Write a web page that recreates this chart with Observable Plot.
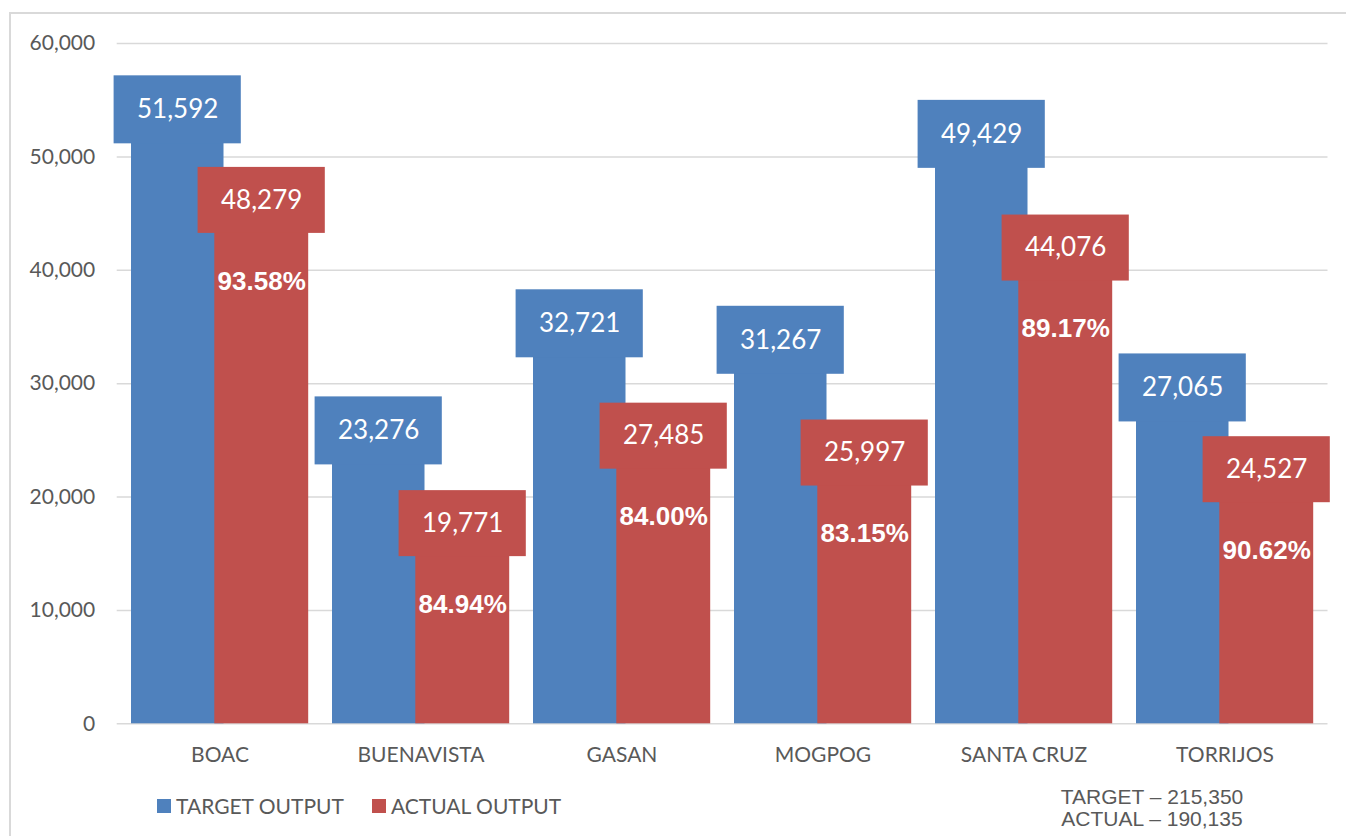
<!DOCTYPE html>
<html>
<head>
<meta charset="utf-8">
<script src="https://cdn.jsdelivr.net/npm/d3@7"></script>
<script src="https://cdn.jsdelivr.net/npm/@observablehq/plot@0.6"></script>
<style>
  html, body { margin: 0; padding: 0; background: #fff; }
  #wrap { position: relative; width: 1346px; height: 836px; overflow: hidden; }
  #frame { position: absolute; left: 9px; top: 12px; width: 1400px; height: 900px;
           border-top: 2px solid #D9D9D9; border-left: 2px solid #D9D9D9; box-sizing: border-box; }
  #chart { position: absolute; left: 0; top: 0; }
  .legend { position: absolute; top: 793px; font-family: Lato, sans-serif; font-size: 21px; color: #595959;
            display: flex; align-items: center; white-space: nowrap; }
  .legend .sw { width: 14px; height: 14px; margin-right: 5px; }
  #totals { position: absolute; left: 1052px; top: 786px; width: 200px; text-align: center;
            font-family: "Liberation Sans", Arial, sans-serif; font-size: 21px; line-height: 22px; color: #595959; }
</style>
</head>
<body>
<div id="wrap">
  <div id="frame"></div>
  <div id="chart"></div>
  <div class="legend" style="left:157px"><div class="sw" style="background:#4F81BD"></div>TARGET OUTPUT</div>
  <div class="legend" style="left:372px"><div class="sw" style="background:#C0504D"></div>ACTUAL OUTPUT</div>
  <div id="totals"></div>
</div>
<script>
const regions = ["BOAC", "BUENAVISTA", "GASAN", "MOGPOG", "SANTA CRUZ", "TORRIJOS"];
const targetOutput = [51592, 23276, 32721, 31267, 49429, 27065];
const actualOutput = [48279, 19771, 27485, 25997, 44076, 24527];
const pctLabels = ["93.58%", "84.94%", "84.00%", "83.15%", "89.17%", "90.62%"];
const yTicks = [0, 10000, 20000, 30000, 40000, 50000, 60000];
const totalLines = ["TARGET \u2013 215,350", "ACTUAL \u2013 190,135"];

const BLUE = "#4F81BD", RED = "#C0504D";
const data = regions.map((r, i) => ({region: r, target: targetOutput[i], actual: actualOutput[i], pct: pctLabels[i]}));
const fmt = d3.format(",");

const chart = Plot.plot({
  width: 1346,
  height: 780,
  marginLeft: 116.7,
  marginRight: 18.5,
  marginTop: 43,
  marginBottom: 56.7,
  style: {background: "transparent", overflow: "visible"},
  x: {type: "band", domain: regions, padding: 0, label: null},
  y: {domain: [0, 60000], label: null},
  marks: [
    Plot.gridY(yTicks, {stroke: "#D9D9D9", strokeOpacity: 1, strokeWidth: 1.5}),
    Plot.axisY(yTicks, {tickSize: 0, tickPadding: 22, tickFormat: fmt, fontSize: 21,
      fontFamily: "Lato, sans-serif", fill: "#595959", label: null}),
    Plot.axisX({tickSize: 0, tickPadding: 23, fontSize: 21, fontFamily: "Lato, sans-serif",
      fill: "#595959", label: null}),
    // bars
    Plot.barY(data, {x: "region", y: "target", fill: BLUE, insetLeft: 12, insetRight: 96.5}),
    Plot.barY(data, {x: "region", y: "actual", fill: RED, insetLeft: 95.3, insetRight: 11.8}),
    // label boxes
    Plot.barY(data, {x: "region", y1: "target", y2: "target", fill: BLUE,
      insetLeft: -5.4, insetRight: 79.2, insetTop: -63, insetBottom: -5}),
    Plot.barY(data, {x: "region", y1: "actual", y2: "actual", fill: RED,
      insetLeft: 78.6, insetRight: -4.8, insetTop: -9, insetBottom: -57}),
    // label texts
    Plot.text(data, {x: "region", y: "target", text: d => fmt(d.target), dx: -42.3, dy: -29,
      fill: "white", fontSize: 26, fontFamily: "Lato, sans-serif", lineAnchor: "middle"}),
    Plot.text(data, {x: "region", y: "actual", text: d => fmt(d.actual), dx: 41.7, dy: 24,
      fill: "white", fontSize: 26, fontFamily: "Lato, sans-serif", lineAnchor: "middle"}),
    Plot.text(data, {x: "region", y: "actual", text: "pct", dx: 41.7, dy: 105,
      fill: "white", fontSize: 26, fontWeight: "bold", fontFamily: "'Liberation Sans', Arial, sans-serif", lineAnchor: "middle"})
  ]
});
document.getElementById("chart").appendChild(chart);
document.getElementById("totals").innerHTML = totalLines.join("<br>");
</script>
</body>
</html>
